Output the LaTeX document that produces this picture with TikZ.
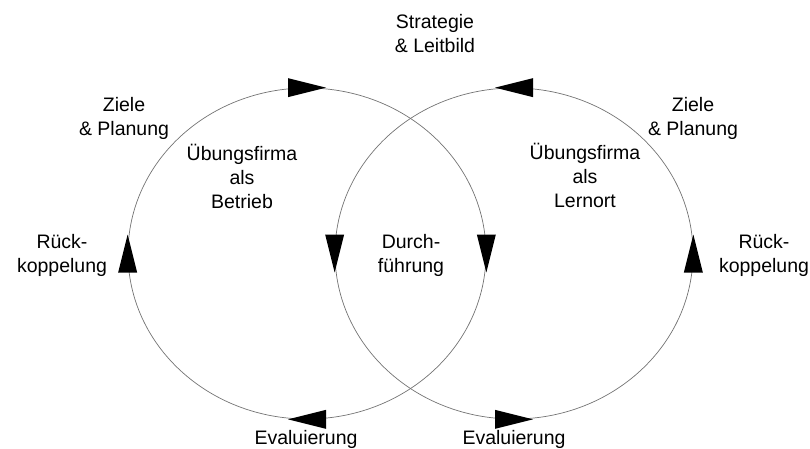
\documentclass[tikz,border=0pt]{standalone}
\usepackage{fontspec}
\setmainfont{Liberation Sans}
\usetikzlibrary{shapes.geometric}
\begin{document}
\begin{tikzpicture}[x=1pt,y=-1pt,
  loop/.style={draw=black!55, line width=0.7pt, ellipse, minimum width=358pt, minimum height=331pt, inner sep=0pt},
  lbl/.style={align=center, font=\fontsize{19.5}{23.7}\selectfont, inner sep=0pt, anchor=base},
  tri/.pic={\fill[black] (-19,-9.5) -- (19,0) -- (-19,9.5) -- cycle;}]
\useasboundingbox (0,0) rectangle (810,448);
\node[loop] (L) at (307,253.5) {};
\node[loop] (R) at (514,253.5) {};
\pic[rotate=0] at (L.north) {tri};
\pic[rotate=-90] at (L.east) {tri};
\pic[rotate=180] at (L.south) {tri};
\pic[rotate=90] at (L.west) {tri};
\pic[rotate=180] at (R.north) {tri};
\pic[rotate=90] at (R.east) {tri};
\pic[rotate=0] at (R.south) {tri};
\pic[rotate=-90] at (R.west) {tri};
\node[lbl] (strat) at (435,52) {Strategie\\\& Leitbild};
\node[lbl] (zl) at (124,135) {Ziele\\\& Planung};
\node[lbl] (zr) at (693,135) {Ziele\\\& Planung};
\node[lbl] (ubl) at (242,208) {Übungsfirma\\als\\Betrieb};
\node[lbl] (ubr) at (585,207) {Übungsfirma\\als\\Lernort};
\node[lbl] (rl) at (62,272) {Rück-\\koppelung};
\node[lbl] (rr) at (764,272) {Rück-\\koppelung};
\node[lbl] (df) at (411,272) {Durch-\\führung};
\node[lbl] (el) at (306,444) {Evaluierung};
\node[lbl] (er) at (514,444) {Evaluierung};
\end{tikzpicture}
\end{document}
